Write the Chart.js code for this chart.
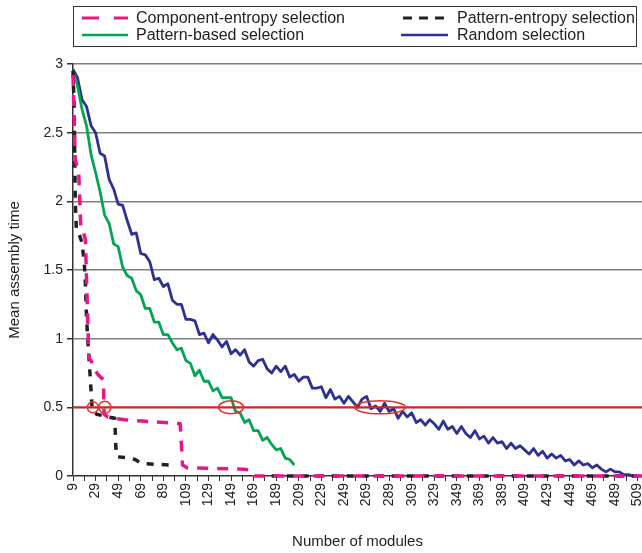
<!DOCTYPE html>
<html>
<head>
<meta charset="utf-8">
<script src="https://cdn.jsdelivr.net/npm/chart.js@4.4.0/dist/chart.umd.min.js"></script>
<style>
  body { margin: 0; background: #fff; }
  #wrap { position: relative; width: 642px; height: 553px; }
  #legend { position: absolute; left: 73px; top: 6px; width: 564px; height: 41px; border: 1px solid #333;
            font: 16px "Liberation Sans", Arial, sans-serif; color: #222; box-sizing: border-box; }
  .item { position: absolute; height: 17px; line-height: 17px; display: flex; align-items: center; white-space: nowrap; }
  .item svg { flex: none; }
</style>
</head>
<body>
<div id="wrap">
  <canvas id="chart" width="642" height="553"></canvas>
  <div id="legend">
    <div class="item" style="left:8px;top:2px">
      <svg width="46" height="10"><line x1="0" y1="5" x2="46" y2="5" stroke="#e8168b" stroke-width="3" stroke-dasharray="17,15"/></svg>
      <span style="margin-left:8px">Component-entropy selection</span>
    </div>
    <div class="item" style="left:329px;top:2px">
      <svg width="42" height="10"><line x1="0" y1="5" x2="42" y2="5" stroke="#231f20" stroke-width="3" stroke-dasharray="9,7"/></svg>
      <span style="margin-left:12px">Pattern-entropy selection</span>
    </div>
    <div class="item" style="left:8px;top:19px">
      <svg width="46" height="10"><line x1="0" y1="5" x2="46" y2="5" stroke="#00a651" stroke-width="2.5"/></svg>
      <span style="margin-left:8px">Pattern-based selection</span>
    </div>
    <div class="item" style="left:327px;top:19px">
      <svg width="47" height="10"><line x1="0" y1="5" x2="47" y2="5" stroke="#2e3192" stroke-width="2.5"/></svg>
      <span style="margin-left:9px">Random selection</span>
    </div>
  </div>
</div>
<script>
// x tick positions (every 10 modules) and the ones that carry a label
const xTicks = [9,19,29,39,49,59,69,79,89,99,109,119,129,139,149,159,169,179,189,199,209,219,229,239,249,259,269,279,289,299,309,319,329,339,349,359,369,379,389,399,409,419,429,439,449,459,469,479,489,499,509];
const xTickLabels = [9,29,49,69,89,109,129,149,169,189,209,229,249,269,289,309,329,349,369,389,409,429,449,469,489,509];
const yTicks = [0, 0.5, 1, 1.5, 2, 2.5, 3];

// sampled module counts for the noisy curves
const modules = [9,13,17,21,25,29,33,37,41,45,49,53,57,61,65,69,73,77,81,85,89,93,97,101,105,109,113,117,121,125,129,133,137,141,145,149,153,157,161,165,169,173,177,181,185,189,193,197,201,205,209,213,217,221,225,229,233,237,241,245,249,253,257,261,265,269,273,277,281,285,289,293,297,301,305,309,313,317,321,325,329,333,337,341,345,349,353,357,361,365,369,373,377,381,385,389,393,397,401,405,409,413,417,421,425,429,433,437,441,445,449,453,457,461,465,469,473,477,481,485,489,493,497,501,505,509];

const randomSel = [2.96,2.90,2.74,2.69,2.55,2.50,2.35,2.33,2.16,2.09,1.98,1.97,1.86,1.76,1.77,1.62,1.61,1.56,1.43,1.44,1.38,1.40,1.28,1.25,1.25,1.14,1.14,1.13,1.03,1.04,0.97,1.03,0.99,0.94,0.98,0.89,0.92,0.88,0.92,0.83,0.80,0.84,0.85,0.78,0.75,0.80,0.76,0.80,0.72,0.74,0.69,0.72,0.72,0.64,0.64,0.65,0.57,0.63,0.56,0.58,0.53,0.58,0.54,0.50,0.56,0.58,0.49,0.51,0.47,0.53,0.47,0.49,0.42,0.47,0.43,0.46,0.39,0.41,0.37,0.41,0.38,0.34,0.40,0.34,0.36,0.31,0.36,0.31,0.28,0.33,0.27,0.29,0.24,0.28,0.24,0.25,0.20,0.24,0.20,0.22,0.19,0.16,0.20,0.15,0.18,0.13,0.16,0.13,0.15,0.11,0.12,0.08,0.11,0.08,0.09,0.06,0.08,0.05,0.03,0.05,0.03,0.03,0.01,0.01,0.00,0.00];

const patternBased = [2.95,2.84,2.67,2.55,2.34,2.21,2.07,1.90,1.84,1.69,1.67,1.52,1.46,1.44,1.35,1.32,1.22,1.22,1.12,1.12,1.03,1.03,0.97,0.92,0.93,0.84,0.82,0.73,0.77,0.69,0.69,0.62,0.64,0.57,0.57,0.57,0.47,0.46,0.39,0.41,0.33,0.33,0.26,0.28,0.23,0.19,0.20,0.13,0.12,0.08];

// step-like entropy curves (module, value)
const componentX = [9,11,14,16,18,20,23,25,28,31,36,36.5,40,45,55,70,90,104,106,110,160,168,170,513];
const componentY = [2.92,2.30,2.22,1.80,1.78,1.72,0.86,0.84,0.78,0.74,0.70,0.45,0.43,0.42,0.41,0.40,0.39,0.38,0.08,0.06,0.05,0.04,0,0];
const patternEntX = [9,10,11,12,14,17,19,20,21,22,23,24,25,26,30,40,46,47,48,60,64,70,95,96,185,513];
const patternEntY = [2.95,2.70,2.00,1.80,1.77,1.70,1.55,1.40,1.15,1.00,0.88,0.75,0.62,0.48,0.45,0.43,0.42,0.20,0.14,0.13,0.12,0.09,0.08,null,0,0];

const threshold = 0.5;
const markModules = [26.6, 37.2, 149, 281];

const xy = (xs, ys) => xs.map((x, i) => ({ x: x, y: ys[i] }));

const font = { family: '"Liberation Sans", Arial, sans-serif', size: 14 };

const marks = {
  id: 'marks',
  afterDatasetsDraw(chart) {
    const c = chart.ctx, xs = chart.scales.x, ys = chart.scales.y;
    const sizes = [[5.5, 5.5], [6, 6], [12.5, 6.5], [25.5, 6.5]];
    c.save();
    c.strokeStyle = '#e8312f';
    c.lineWidth = 1.5;
    markModules.forEach((m, i) => {
      c.beginPath();
      c.ellipse(xs.getPixelForValue(m), ys.getPixelForValue(threshold), sizes[i][0], sizes[i][1], 0, 0, Math.PI * 2);
      c.stroke();
    });
    c.restore();
  }
};

new Chart(document.getElementById('chart'), {
  type: 'line',
  data: {
    datasets: [
      { label: 'threshold', data: [{ x: 9, y: threshold }, { x: 513, y: threshold }], borderColor: '#d2232a', borderWidth: 2 },
      { label: 'Component-entropy selection', data: xy(componentX, componentY), borderColor: '#e8168b', borderWidth: 3.5, borderDash: [11, 9], clip: false },
      { label: 'Pattern-entropy selection', data: xy(patternEntX, patternEntY), borderColor: '#231f20', borderWidth: 3.5, borderDash: [7, 8], clip: false },
      { label: 'Pattern-based selection', data: xy(modules.slice(0, patternBased.length), patternBased), borderColor: '#00a651', borderWidth: 2.8, clip: false },
      { label: 'Random selection', data: xy(modules, randomSel), borderColor: '#2e3192', borderWidth: 2.8, clip: false }
    ]
  },
  options: {
    responsive: false,
    animation: false,
    elements: { point: { radius: 0 }, line: { tension: 0, borderJoinStyle: 'round' } },
    plugins: { legend: { display: false }, tooltip: { enabled: false } },
    layout: { padding: { top: 64, right: 0, left: 0, bottom: 0 } },
    scales: {
      x: {
        type: 'linear', min: 9, max: 513,
        afterBuildTicks: s => { s.ticks = xTicks.map(v => ({ value: v })); },
        afterFit: s => { s.height = 77; s.paddingLeft = 0; s.paddingRight = 0; },
        ticks: { autoSkip: false, maxRotation: 90, minRotation: 90, padding: 2, color: '#222', font: font,
                 callback: v => xTickLabels.includes(v) ? String(v) : '' },
        grid: { drawOnChartArea: false, tickLength: 5, color: '#333' },
        border: { display: false },
        title: { display: true, text: 'Number of modules', color: '#222', font: { family: font.family, size: 15 }, padding: { top: 0, bottom: 2 } }
      },
      y: {
        min: 0, max: 3,
        afterBuildTicks: s => { s.ticks = yTicks.map(v => ({ value: v })); },
        afterFit: s => { s.width = 73; },
        ticks: { color: '#222', font: font, padding: 4, callback: v => String(v) },
        grid: { color: c => c.tick.value === 0 ? '#333' : '#7f7f7f', lineWidth: 1.5, tickLength: 6, tickColor: '#333' },
        border: { color: '#333', width: 1.5 },
        title: { display: true, text: 'Mean assembly time', color: '#222', font: { family: font.family, size: 15 }, padding: { top: 6, bottom: 0 } }
      }
    }
  },
  plugins: [marks]
});
</script>
</body>
</html>
